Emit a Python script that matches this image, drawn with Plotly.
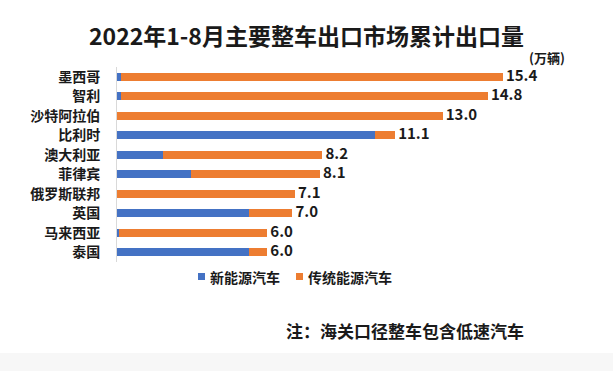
import plotly.graph_objects as go

categories = ["墨西哥", "智利", "沙特阿拉伯", "比利时", "澳大利亚", "菲律宾", "俄罗斯联邦", "英国", "马来西亚", "泰国"]
totals = [15.4, 14.8, 13.0, 11.1, 8.2, 8.1, 7.1, 7.0, 6.0, 6.0]
nev = [0.15, 0.15, 0.0, 10.3, 1.85, 2.95, 0.0, 5.25, 0.07, 5.25]
traditional = [round(t - n, 2) for t, n in zip(totals, nev)]
labels = [f"\u2009{t:.1f}" for t in totals]
series_names = ["新能源汽车", "传统能源汽车"]

W, H = 613, 371
L, R, T, B = 117, 13, 67, 109
plot_w = W - L - R
plot_h = H - T - B
xmax = plot_w / 25.06

FONT = "Noto Sans CJK SC"
BLUE = "#4472C4"
ORANGE = "#ED7D31"

fig = go.Figure()
fig.add_trace(go.Bar(y=categories, x=nev, orientation="h", name=series_names[0],
                     marker=dict(color=BLUE, line=dict(width=0))))
fig.add_trace(go.Bar(y=categories, x=traditional, orientation="h", name=series_names[1],
                     marker=dict(color=ORANGE, line=dict(width=0))))
fig.add_trace(go.Scatter(y=categories, x=totals, mode="text", text=labels,
                         textposition="middle right", showlegend=False,
                         textfont=dict(family=FONT, size=15, color="#1a1a1a", weight="bold"),
                         hoverinfo="skip"))

def py(pixel_y):
    return (H - B - pixel_y) / plot_h

def px(pixel_x):
    return (pixel_x - L) / plot_w

shapes = [dict(type="rect", xref="paper", yref="paper",
               x0=px(0), x1=px(W), y0=py(H), y1=py(353),
               fillcolor="#f7f7f7", line=dict(width=0), layer="below")]
annotations = [
    dict(text="2022年1-8月主要整车出口市场累计出口量", xref="paper", yref="paper",
         x=px(306), y=py(35.5), xanchor="center", yanchor="middle", showarrow=False,
         font=dict(family=FONT, size=23, weight="bold", color="#1a1a1a")),
    dict(text="(万辆)", xref="paper", yref="paper",
         x=px(567), y=py(58), xanchor="right", yanchor="middle", showarrow=False,
         font=dict(family=FONT, size=13, weight="bold", color="#1a1a1a")),
    dict(text="注：海关口径整车包含低速汽车", xref="paper", yref="paper",
         x=px(405), y=py(330), xanchor="center", yanchor="middle", showarrow=False,
         font=dict(family=FONT, size=17, weight="bold", color="#1a1a1a")),
]

# custom legend (compact spacing as in the reference)
for name, color, sx in zip(series_names, [BLUE, ORANGE], [198, 296]):
    shapes.append(dict(type="rect", xref="paper", yref="paper",
                       x0=px(sx), x1=px(sx + 7), y0=py(280), y1=py(273),
                       fillcolor=color, line=dict(width=0)))
    annotations.append(dict(text=name, xref="paper", yref="paper",
                            x=px(sx + 10), y=py(276.5), xanchor="left", yanchor="middle",
                            showarrow=False,
                            font=dict(family=FONT, size=14, weight="bold", color="#1a1a1a")))

fig.update_layout(
    width=W, height=H,
    margin=dict(l=L, r=R, t=T, b=B, autoexpand=False),
    paper_bgcolor="white", plot_bgcolor="white",
    barmode="stack", bargap=0.58,
    font=dict(family=FONT, color="#1a1a1a", weight="bold"),
    showlegend=False,
    xaxis=dict(range=[0, xmax], showgrid=False, zeroline=False, showticklabels=False,
               showline=False, fixedrange=True, automargin=False),
    yaxis=dict(autorange="reversed", showgrid=False, zeroline=False,
               showline=True, linecolor="#d9d9d9", linewidth=1, automargin=False,
               ticks="", ticklabelstandoff=13,
               tickfont=dict(family=FONT, size=14, weight="bold", color="#1a1a1a")),
    shapes=shapes,
    annotations=annotations,
)

fig.write_html("out.html", config={"displayModeBar": False},
               post_script="document.body.style.margin='0';document.body.style.padding='0';")
